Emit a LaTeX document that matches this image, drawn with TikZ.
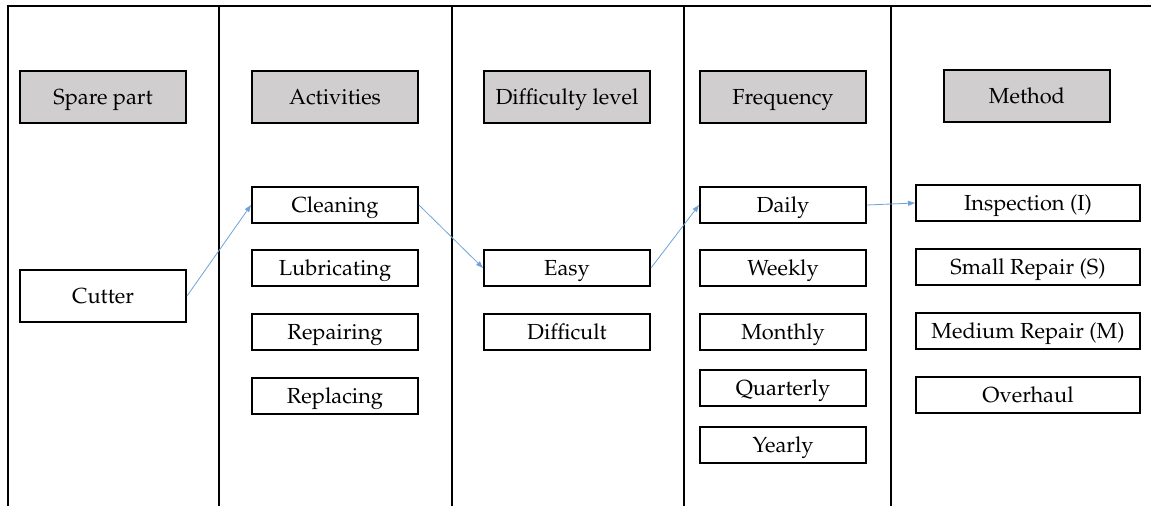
\documentclass[tikz,border=0pt]{standalone}
\usepackage[T1]{fontenc}
\usepackage{mathpazo}
\usetikzlibrary{arrows.meta}
\definecolor{headgray}{HTML}{D0CECE}
\definecolor{arrowblue}{HTML}{6FA3D8}
\tikzset{
  box/.style={draw=black, line width=2pt, minimum height=36pt, inner sep=0pt,
    text height=16pt, text depth=2pt, font=\fontsize{21.8}{26}\selectfont},
  headbox/.style={box, fill=headgray, minimum height=52pt},
  w166/.style={minimum width=166pt},
  w224/.style={minimum width=224pt},
  frame/.style={line width=2pt},
  link/.style={draw=arrowblue, line width=0.8pt, -{Triangle[length=7pt,width=5pt]}}
}
\begin{document}
\begin{tikzpicture}[x=1pt,y=-1pt]
\useasboundingbox (0,0) rectangle (1151,506);
% frame
\coordinate (tl) at (8,6);
\coordinate (tr) at (1151,6);
\draw[frame] (8,506) -- (tl) -- (tr);
\draw[frame] (219,6) -- (219,506);
\draw[frame] (452,6) -- (452,506);
\draw[frame] (684,6) -- (684,506);
\draw[frame] (891,6) -- (891,506);
% headers
\node[headbox,w166] (h1) at (103,97) {Spare part};
\node[headbox,w166] (h2) at (335,97) {Activities};
\node[headbox,w166] (h3) at (567,97) {Difficulty level};
\node[headbox,w166] (h4) at (783,97) {Frequency};
\node[headbox,w166] (h5) at (1027,96) {Method};
% column 1
\node[box,w166,minimum height=52pt] (cutter) at (103,296) {Cutter};
% column 2
\node[box,w166] (clean) at (335,205) {Cleaning};
\node[box,w166] (lub) at (335,268) {Lubricating};
\node[box,w166] (rep) at (335,332) {Repairing};
\node[box,w166] (repl) at (335,396) {Replacing};
% column 3
\node[box,w166] (easy) at (567,268) {Easy};
\node[box,w166] (diff) at (567,332) {Difficult};
% column 4
\node[box,w166] (daily) at (783,205) {Daily};
\node[box,w166] (weekly) at (783,268) {Weekly};
\node[box,w166] (monthly) at (783,332) {Monthly};
\node[box,w166] (quarterly) at (783,388) {Quarterly};
\node[box,w166] (yearly) at (783,445) {Yearly};
% column 5
\node[box,w224] (insp) at (1028,203) {Inspection (I)};
\node[box,w224] (small) at (1028,267) {Small Repair (S)};
\node[box,w224] (medium) at (1028,331) {Medium Repair (M)};
\node[box,w224] (over) at (1028,395) {Overhaul};
% links
\draw[link] (cutter.east) -- (clean.west);
\draw[link] (clean.east) -- (easy.west);
\draw[link] (easy.east) -- (daily.west);
\draw[link] (daily.east) -- (insp.west);
\end{tikzpicture}
\end{document}
